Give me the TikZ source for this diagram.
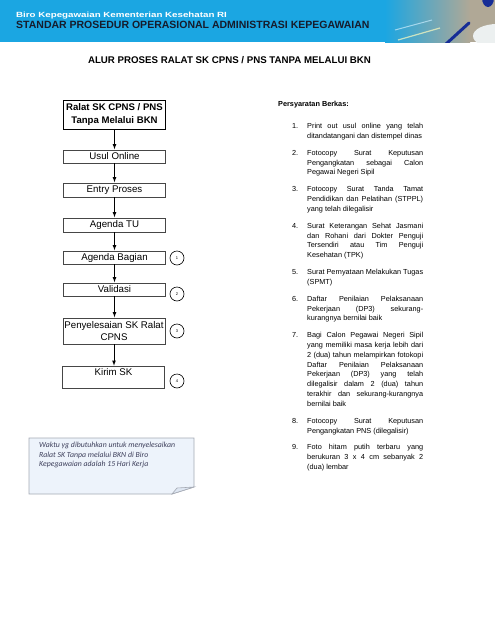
\documentclass[tikz,border=0pt]{standalone}
\usepackage{fontspec}
\setmainfont{Liberation Sans}
\newfontfamily\notefont{Carlito}
\usetikzlibrary{arrows.meta, positioning, calc}
\definecolor{HeaderBlue}{RGB}{27,166,226}
\definecolor{HeaderDark}{RGB}{22,28,44}
\definecolor{PhotoBeige}{RGB}{176,168,150}
\definecolor{PenNavy}{RGB}{22,45,150}
\definecolor{DiscWhite}{RGB}{236,240,240}
\definecolor{NoteFill}{RGB}{237,243,251}
\definecolor{NoteFold}{RGB}{222,230,242}
\definecolor{NoteLine}{RGB}{165,170,180}
\definecolor{NoteText}{RGB}{62,64,92}
\definecolor{BoxLine}{RGB}{70,70,70}
\tikzset{
  >=latex,
  % kotak alur proses
  stepbox/.style={draw=BoxLine,line width=0.9pt,minimum width=102pt,inner sep=1pt,align=center,
    font=\fontsize{9.7}{12}\selectfont},
  stepbox head/.style={stepbox,draw=black,font=\bfseries\fontsize{9.6}{13}\selectfont},
  % nomor persyaratan
  badge/.style={circle,draw=black,line width=0.6pt,minimum size=14pt,inner sep=0pt,
    font=\fontsize{4}{4}\selectfont},
  % panah
  connect arrow/.style={->,line width=0.8pt,black,shorten >=0.3pt}
}
\begin{document}
\begin{tikzpicture}[x=1pt,y=-1pt]
  \useasboundingbox (0,0) rectangle (495,640);
  % kepala halaman
  \fill[HeaderBlue] (0,0) rectangle (495,42);
  \begin{scope}
    \clip (385,0) rectangle (495,42);
    \shade[left color=HeaderBlue,right color=PhotoBeige] (385,0) rectangle (470,42);
    \fill[PhotoBeige] (470,0) rectangle (495,42);
    \draw[white!75!yellow,line width=1.2pt,opacity=.7] (398,40) -- (440,28);
    \draw[white!70!HeaderBlue,line width=1pt,opacity=.8] (395,30) -- (432,20);
    \draw[PenNavy,line width=3pt,line cap=round] (446,44) -- (469,23);
    \fill[DiscWhite] (497,36) ellipse (24 and 12);
    \fill[PenNavy] (488,-2) ellipse (6 and 9);
  \end{scope}
  \node[anchor=west,inner sep=0,text=white,font=\bfseries\fontsize{7.5}{8}\selectfont] (biro)
    at (16,16) {\scalebox{1.3}[1]{Biro Kepegawaian Kementerian Kesehatan RI}};
  \node[anchor=west,inner sep=0,text=HeaderDark,font=\bfseries\fontsize{10.5}{12}\selectfont] (sop)
    at (16,24.5) {STANDAR PROSEDUR OPERASIONAL ADMINISTRASI KEPEGAWAIAN};
  \node[font=\bfseries\fontsize{9.7}{11}\selectfont] (judul) at (229.5,60)
    {ALUR PROSES RALAT SK CPNS / PNS TANPA MELALUI BKN};

  % alur
  \node[stepbox head,minimum height=29pt] (ralat) at (114.5,114.5) {Ralat SK CPNS / PNS\\Tanpa Melalui BKN};
  \node[stepbox,minimum height=13pt] (usul) at (114.5,156.5) {Usul Online};
  \node[stepbox,minimum height=14pt] (entry) at (114.5,190) {Entry Proses};
  \node[stepbox,minimum height=14pt] (agendatu) at (114.5,225) {Agenda TU};
  \node[stepbox,minimum height=13pt] (agendabag) at (114.5,257.5) {Agenda Bagian};
  \node[stepbox,minimum height=13pt] (validasi) at (114.5,289.5) {Validasi};
  \node[stepbox,minimum height=26pt] (selesai) at (114,331) {Penyelesaian SK Ralat\\CPNS};
  \node[stepbox,anchor=north,text height=7pt,text depth=11pt,inner ysep=2pt] (kirim) at (113.5,366) {Kirim SK};

  \draw[connect arrow] (ralat.south) -- (ralat.south |- usul.north);
  \draw[connect arrow] (usul.south) -- (usul.south |- entry.north);
  \draw[connect arrow] (entry.south) -- (entry.south |- agendatu.north);
  \draw[connect arrow] (agendatu.south) -- (agendatu.south |- agendabag.north);
  \draw[connect arrow] (agendabag.south) -- (agendabag.south |- validasi.north);
  \draw[connect arrow] (validasi.south) -- (validasi.south |- selesai.north);
  \draw[connect arrow] (selesai.south) -- (selesai.south |- kirim.north);

  \node[badge] (b1) at (177,258) {1};
  \node[badge] (b2) at (177,294) {2};
  \node[badge] (b3) at (177,331) {3};
  \node[badge] (b4) at (177,381) {4};

  % persyaratan berkas
  \node[anchor=west,inner sep=0,font=\bfseries\fontsize{7.3}{9}\selectfont] (berkas) at (278,105) {Persyaratan Berkas:};
  \node[anchor=north west,inner sep=0,text width=145pt,align=justify,font=\fontsize{7.3}{9.8}\selectfont] (syarat) at (278,118.5) {%
    \hyphenpenalty=10000 \tolerance=10000
    \begin{list}{\arabic{enumi}.}{\usecounter{enumi}\setlength\leftmargin{29pt}\setlength\labelwidth{15pt}%
      \setlength\labelsep{9pt}\setlength\itemsep{7.1pt}\setlength\parsep{0pt}\setlength\topsep{0pt}}
    \item Print out usul online yang telah\linebreak ditandatangani dan distempel dinas
    \item Fotocopy Surat Keputusan\linebreak Pengangkatan sebagai Calon\linebreak Pegawai Negeri Sipil
    \item Fotocopy Surat Tanda Tamat\linebreak Pendidikan dan Pelatihan (STPPL)\linebreak yang telah dilegalisir
    \item Surat Keterangan Sehat Jasmani\linebreak dan Rohani dari Dokter Penguji\linebreak Tersendiri atau Tim Penguji\linebreak Kesehatan (TPK)
    \item Surat Pernyataan Melakukan Tugas\linebreak (SPMT)
    \item Daftar Penilaian Pelaksanaan\linebreak Pekerjaan (DP3) sekurang-\linebreak kurangnya bernilai baik
    \item Bagi Calon Pegawai Negeri Sipil\linebreak yang memiliki masa kerja lebih dari\linebreak 2 (dua) tahun melampirkan fotokopi\linebreak Daftar Penilaian Pelaksanaan\linebreak Pekerjaan (DP3) yang telah\linebreak dilegalisir dalam 2 (dua) tahun\linebreak terakhir dan sekurang-kurangnya\linebreak bernilai baik
    \item Fotocopy Surat Keputusan\linebreak Pengangkatan PNS (dilegalisir)
    \item Foto hitam putih terbaru yang\linebreak berukuran 3 x 4 cm sebanyak 2\linebreak (dua) lembar
    \end{list}};

  % catatan waktu
  \filldraw[fill=NoteFill,draw=NoteLine,line width=0.8pt]
    (29,438) -- (194,438) -- (194,487) -- (172,494) -- (29,494) -- cycle;
  \filldraw[fill=NoteFold,draw=NoteLine,line width=0.6pt] (172,494) -- (177,488) -- (194,487) -- cycle;
  \node[anchor=north west,inner sep=0,align=left,text=NoteText,font=\notefont\itshape\fontsize{7.8}{9.6}\selectfont] (catatan)
    at (39,442) {Waktu yg dibutuhkan untuk menyelesaikan\\Ralat SK Tanpa melalui BKN di Biro\\Kepegawaian adalah 15 Hari Kerja};
\end{tikzpicture}
\end{document}
